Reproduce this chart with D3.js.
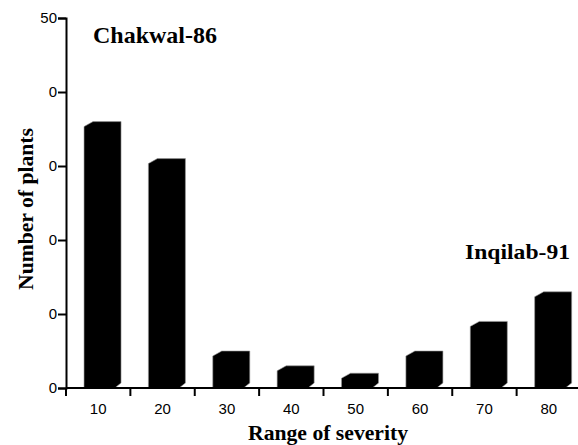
<!DOCTYPE html>
<html>
<head>
<meta charset="utf-8">
<script src="https://cdn.jsdelivr.net/npm/d3@7"></script>
<style>
  body { margin: 0; background: #fff; }
  svg { display: block; }
</style>
</head>
<body>
<svg width="578" height="445"></svg>
<script>
const categories = ['10', '20', '30', '40', '50', '60', '70', '80'];
const plants = [36, 31, 5, 3, 2, 5, 9, 13];
const yTicks = [0, 10, 20, 30, 40, 50];
const yTickLabels = ['0', '0', '0', '0', '0', '50'];

const svg = d3.select('svg');

const x = d3.scaleBand().domain(categories).range([66, 581]).padding(0);
const y = d3.scaleLinear().domain([0, 50]).range([388, 18]);

// bars with bevelled top-left and bottom-right corners
const bw = x.bandwidth();
function barPath(d, i) {
    const x0 = x(categories[i]) + bw * 0.28;
    const x1 = x0 + bw * 0.575;
    const top = y(d);
    const base = y(0);
    const h = base - top;
    const bx = Math.min(9, h * 1.2), by = Math.min(5, h * 0.5);
    return `M${x0},${top + by}L${x0 + bx},${top}L${x1},${top}L${x1},${base - by}L${x1 - bx * 0.7},${base}L${x0},${base}Z`;
}

svg.append('g').selectAll('path')
    .data(plants)
    .join('path')
    .attr('d', barPath)
    .attr('fill', '#000')
    .attr('stroke', '#999')
    .attr('stroke-width', 0.6);

const sans = 'Liberation Sans, Arial, sans-serif';

// x axis
const xAxis = svg.append('g').attr('transform', `translate(0,${y(0)})`);
xAxis.append('line')
    .attr('x1', 66).attr('x2', 578)
    .attr('stroke', '#000').attr('stroke-width', 2);
xAxis.selectAll('line.tick')
    .data(categories)
    .join('line')
    .attr('class', 'tick')
    .attr('x1', d => x(d)).attr('x2', d => x(d))
    .attr('y1', 0).attr('y2', 8)
    .attr('stroke', '#000').attr('stroke-width', 2);
xAxis.selectAll('text')
    .data(categories)
    .join('text')
    .attr('x', d => x(d) + bw / 2)
    .attr('y', 26)
    .attr('text-anchor', 'middle')
    .attr('font-family', sans)
    .attr('font-size', '15px')
    .text(d => d);

// y axis
const yAxis = d3.axisLeft(y)
    .tickValues(yTicks)
    .tickSize(8)
    .tickPadding(1)
    .tickFormat((d, i) => yTickLabels[i]);
const gy = svg.append('g').attr('transform', `translate(66,0)`).call(yAxis);
gy.select('.domain').attr('stroke-width', 2);
gy.selectAll('.tick line').attr('stroke-width', 2);
gy.selectAll('.tick text')
    .attr('font-family', sans)
    .attr('font-size', '15px')
    .attr('fill', '#000');

// titles
const serif = 'Liberation Serif, Times New Roman, serif';
svg.append('text')
    .attr('x', 248).attr('y', 440)
    .attr('font-family', serif).attr('font-weight', 'bold').attr('font-size', '20px')
    .attr('textLength', 160).attr('lengthAdjust', 'spacingAndGlyphs')
    .text('Range of severity');

svg.append('text')
    .attr('transform', 'translate(33,290) rotate(-90)')
    .attr('font-family', serif).attr('font-weight', 'bold').attr('font-size', '20px')
    .attr('textLength', 162).attr('lengthAdjust', 'spacingAndGlyphs')
    .text('Number of plants');

svg.append('text')
    .attr('x', 93).attr('y', 43)
    .attr('font-family', serif).attr('font-weight', 'bold').attr('font-size', '23px')
    .attr('textLength', 124).attr('lengthAdjust', 'spacingAndGlyphs')
    .text('Chakwal-86');

svg.append('text')
    .attr('x', 465).attr('y', 259)
    .attr('font-family', serif).attr('font-weight', 'bold').attr('font-size', '22px')
    .attr('textLength', 105).attr('lengthAdjust', 'spacingAndGlyphs')
    .text('Inqilab-91');
</script>
</body>
</html>
